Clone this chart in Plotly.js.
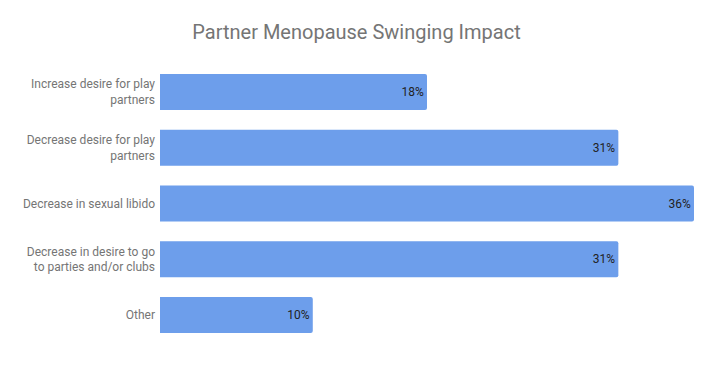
<!DOCTYPE html>
<html>
<head>
<meta charset="utf-8">
<script src="https://cdn.plot.ly/plotly-3.0.1.min.js"></script>
<style>html,body{margin:0;padding:0;background:#fff;}#chart{width:713px;height:371px;}</style>
</head>
<body>
<div id="chart"></div>
<script>
var categories = [
  "Increase desire for play<br>partners",
  "Decrease desire for play<br>partners",
  "Decrease in sexual libido",
  "Decrease in desire to go<br>to parties and/or clubs",
  "Other"
];
var values = [18.0, 30.9, 36.0, 30.9, 10.3];
var labels = ["18%", "31%", "36%", "31%", "10%"];

var trace = {
  type: "bar",
  orientation: "h",
  y: categories,
  x: values,
  text: labels,
  textposition: "inside",
  insidetextanchor: "end",
  textfont: {family: "Roboto, sans-serif", size: 12, color: "#222222"},
  marker: {color: "#6d9eeb", cornerradius: 2},
  hoverinfo: "none"
};

var layout = {
  width: 713, height: 371,
  margin: {l: 160, r: 19, t: 64, b: 28, pad: 0},
  paper_bgcolor: "#ffffff",
  plot_bgcolor: "#ffffff",
  font: {family: "Roboto, sans-serif"},
  title: {text: "Partner Menopause Swinging Impact", x: 0.5, xanchor: "center", y: 0.915, yanchor: "middle",
          font: {family: "Roboto, sans-serif", size: 20, color: "#757575"}},
  bargap: 0.355,
  showlegend: false,
  xaxis: {range: [0, 36], showgrid: false, zeroline: false, showticklabels: false, showline: false, fixedrange: true},
  yaxis: {autorange: "reversed", showgrid: false, zeroline: false, showline: false, ticks: "",
          tickfont: {family: "Roboto, sans-serif", size: 12, color: "#757575"}, ticklabelstandoff: 4}
};

Plotly.newPlot("chart", [trace], layout, {displayModeBar: false, staticPlot: true});
</script>
</body>
</html>
